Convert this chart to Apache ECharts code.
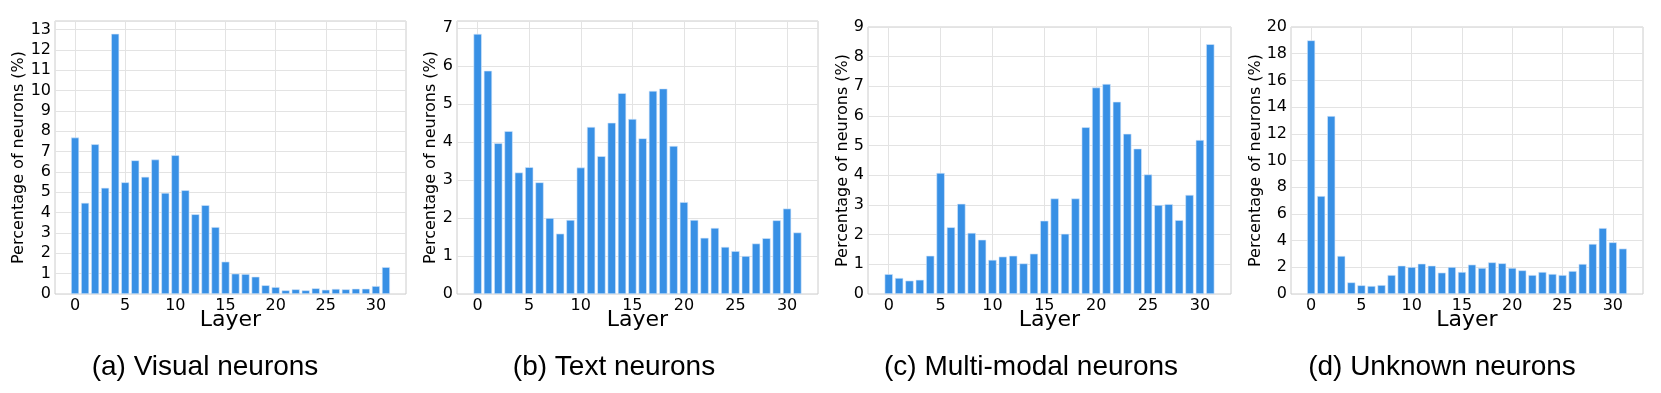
<!DOCTYPE html>
<html>
<head>
<meta charset="utf-8">
<script src="https://cdn.jsdelivr.net/npm/echarts@6/dist/echarts.min.js"></script>
<style>
  html, body { margin: 0; padding: 0; background: #fff; }
  #chart { width: 1661px; height: 393px; }
</style>
</head>
<body>
<div id="chart"></div>
<script>
const layers = [0, 1, 2, 3, 4, 5, 6, 7, 8, 9, 10, 11, 12, 13, 14, 15,
  16, 17, 18, 19, 20, 21, 22, 23, 24, 25, 26, 27, 28, 29, 30, 31];

const visual = [7.69, 4.48, 7.36, 5.22, 12.79, 5.49, 6.57, 5.76, 6.61, 4.97, 6.82, 5.10, 3.92, 4.37, 3.29, 1.59,
  1.00, 0.98, 0.85, 0.43, 0.34, 0.18, 0.23, 0.18, 0.28, 0.21, 0.25, 0.23, 0.26, 0.26, 0.39, 1.32];
const text = [6.85, 5.88, 3.97, 4.29, 3.20, 3.34, 2.94, 2.00, 1.59, 1.95, 3.33, 4.40, 3.63, 4.51, 5.29, 4.61,
  4.10, 5.35, 5.41, 3.90, 2.42, 1.95, 1.48, 1.74, 1.24, 1.13, 1.00, 1.33, 1.47, 1.94, 2.25, 1.62];
const multiModal = [0.67, 0.54, 0.45, 0.48, 1.29, 4.08, 2.25, 3.04, 2.06, 1.83, 1.15, 1.26, 1.29, 1.03, 1.36, 2.47,
  3.22, 2.03, 3.22, 5.62, 6.96, 7.08, 6.48, 5.40, 4.90, 4.03, 3.00, 3.03, 2.49, 3.34, 5.19, 8.42];
const unknown = [19.0, 7.34, 13.33, 2.85, 0.87, 0.65, 0.60, 0.67, 1.42, 2.12, 2.02, 2.27, 2.12, 1.60, 2.02, 1.65,
  2.20, 1.95, 2.37, 2.30, 1.95, 1.77, 1.42, 1.65, 1.50, 1.42, 1.72, 2.25, 3.75, 4.94, 3.87, 3.40];

const captions = ["(a) Visual neurons", "(b) Text neurons", "(c) Multi-modal neurons", "(d) Unknown neurons"];
const yMax = [13.42, 7.19, 9, 20];
const yStep = [1, 1, 1, 2];
const xTickLabels = ["0", "5", "10", "15", "20", "25", "30"];

// empty slots either side so the axis runs from -2 to 33 like matplotlib's margins
const axisCats = ["-2", "-1", ...layers.map(String), "32", "33"];

const panels = [
  { data: visual, left: 55, top: 21, width: 351, height: 273, nameGap: 28, capX: 205 },
  { data: text, left: 457, top: 21, width: 361, height: 273, nameGap: 18, capX: 614 },
  { data: multiModal, left: 868, top: 27, width: 363, height: 267, nameGap: 17, capX: 1031 },
  { data: unknown, left: 1291, top: 27, width: 352, height: 267, nameGap: 27, capX: 1442 },
];

const showTick = (idx, val) => xTickLabels.includes(val);

const chart = echarts.init(document.getElementById("chart"));

const option = {
  animation: false,
  grid: panels.map(p => ({
    left: p.left, top: p.top, width: p.width, height: p.height,
    show: true, borderColor: "#cccccc", borderWidth: 1, backgroundColor: "transparent",
  })),
  xAxis: panels.map((p, i) => ({
    type: "category",
    gridIndex: i,
    data: axisCats,
    boundaryGap: false,
    name: "Layer",
    nameLocation: "middle",
    nameGap: 15,
    nameMoveOverlap: false,
    nameTextStyle: { fontFamily: "DejaVu Sans", fontSize: 22, color: "#000" },
    axisLine: { show: false },
    axisTick: { show: false },
    axisLabel: { interval: showTick, margin: 4, fontFamily: "DejaVu Sans", fontSize: 16, color: "#000" },
    splitLine: { show: true, interval: showTick, lineStyle: { color: "#e3e3e3", width: 1 } },
  })),
  yAxis: panels.map((p, i) => ({
    type: "value",
    gridIndex: i,
    min: 0,
    max: yMax[i],
    interval: yStep[i],
    name: "Percentage of neurons (%)",
    nameLocation: "middle",
    nameGap: p.nameGap,
    nameMoveOverlap: false,
    nameTextStyle: { fontFamily: "DejaVu Sans", fontSize: 16, color: "#000" },
    axisLine: { show: false },
    axisTick: { show: false },
    axisLabel: {
      margin: 4, fontFamily: "DejaVu Sans", fontSize: 16, color: "#000",
      formatter: v => (Math.abs(v / yStep[i] - Math.round(v / yStep[i])) < 1e-6 ? String(v) : ""),
    },
    splitLine: { show: true, lineStyle: { color: "#e3e3e3", width: 1 } },
  })),
  series: panels.map((p, i) => ({
    type: "bar",
    xAxisIndex: i,
    yAxisIndex: i,
    barCategoryGap: "20%",
    data: p.data.map((v, j) => [String(layers[j]), v]),
    itemStyle: { color: "#3890e5", borderColor: "#d6e8fa", borderWidth: 0.6 },
  })),
  graphic: panels.map((p, i) => ({
    type: "text",
    x: p.capX,
    y: 367,
    style: {
      text: captions[i],
      fontFamily: "Liberation Sans",
      fontSize: 28,
      fill: "#000",
      textAlign: "center",
      textVerticalAlign: "middle",
    },
  })),
};

chart.setOption(option);
</script>
</body>
</html>
